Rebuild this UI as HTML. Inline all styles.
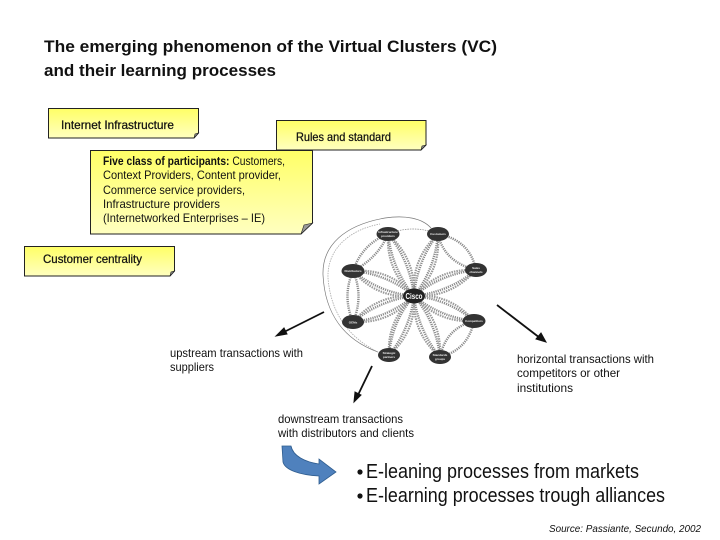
<!DOCTYPE html>
<html>
<head>
<meta charset="utf-8">
<style>
html,body{margin:0;padding:0;background:#fff;width:720px;height:540px;overflow:hidden}
svg{display:block}
text{font-family:"Liberation Sans",sans-serif;fill:#111}
.t{font-size:12px}
.h{stroke:#111;stroke-width:.25}
.n{font-size:3px;fill:#eee;text-anchor:middle;font-weight:bold}
.p{fill:none;stroke:#8a8a8a;stroke-width:2.4;stroke-dasharray:1.2 1}
.q{fill:none;stroke:#9a9a9a;stroke-width:2.2;stroke-dasharray:1.5 1}
</style>
</head>
<body>
<svg width="720" height="540" viewBox="0 0 720 540" xmlns="http://www.w3.org/2000/svg">
<defs>
<linearGradient id="y" x1="0" y1="0" x2="0" y2="1">
<stop offset="0" stop-color="#ffff66"/>
<stop offset="1" stop-color="#ffffc0"/>
</linearGradient>
</defs>
<rect width="720" height="540" fill="#fff"/>

<text x="44" y="52" font-size="17" font-weight="bold" textLength="453" lengthAdjust="spacingAndGlyphs">The emerging phenomenon of the Virtual Clusters (VC)</text>
<text x="44" y="76" font-size="17" font-weight="bold" textLength="232" lengthAdjust="spacingAndGlyphs">and their learning processes</text>

<path d="M48.500 108.500H198.500V133L194 138H48.500Z" fill="url(#y)" stroke="#222"/>
<path d="M194 138L195 134L198.500 133Z" fill="#888" stroke="#222" stroke-width=".6"/>
<text class="t h" x="61" y="129" textLength="113" lengthAdjust="spacingAndGlyphs">Internet Infrastructure</text>

<path d="M276.500 120.500H426V145L421 150H276.500Z" fill="url(#y)" stroke="#222"/>
<path d="M421 150L422 146L426 145Z" fill="#888" stroke="#222" stroke-width=".6"/>
<text class="t h" x="296" y="141" textLength="95" lengthAdjust="spacingAndGlyphs">Rules and standard</text>

<path d="M90.500 150.500H312.500V223L301 234H90.500Z" fill="url(#y)" stroke="#222"/>
<path d="M301 234L304 225L312.500 223Z" fill="#999" stroke="#222" stroke-width=".6"/>
<text class="t" x="103" y="165" textLength="182" lengthAdjust="spacingAndGlyphs"><tspan font-weight="bold">Five class of participants:</tspan> Customers,</text>
<text class="t" x="103" y="179" textLength="178" lengthAdjust="spacingAndGlyphs">Context Providers, Content provider,</text>
<text class="t" x="103" y="194" textLength="142" lengthAdjust="spacingAndGlyphs">Commerce service providers,</text>
<text class="t" x="103" y="208" textLength="117" lengthAdjust="spacingAndGlyphs">Infrastructure providers</text>
<text class="t" x="103" y="222" textLength="162" lengthAdjust="spacingAndGlyphs">(Internetworked Enterprises – IE)</text>

<path d="M24.500 246.500H174.500V271L170 276H24.500Z" fill="url(#y)" stroke="#222"/>
<path d="M170 276L171 272L174.500 271Z" fill="#888" stroke="#222" stroke-width=".6"/>
<text class="t h" x="43" y="263" textLength="99" lengthAdjust="spacingAndGlyphs">Customer centrality</text>

<g>
<path d="M378 352C345 340 325 315 323 275C322 245 345 225 385 218C405 215 422 218 431 228" fill="none" stroke="#777" stroke-width=".7"/>
<path d="M378 352C350 338 331 315 328 278C327 250 348 230 380 224" fill="none" stroke="#aaa" stroke-width=".8" stroke-dasharray="1.500 1"/>

<path class="p" d="M414 296Q410 261 388 234M414 296Q392 269 388 234"/>
<path class="p" d="M414 296Q435 269 438 234M414 296Q417 261 438 234"/>
<path class="p" d="M414 296Q449 292 476 270M414 296Q441 274 476 270"/>
<path class="p" d="M414 296Q387 274 353 271M414 296Q380 293 353 271"/>
<path class="p" d="M414 296Q387 318 353 322M414 296Q380 300 353 322"/>
<path class="p" d="M414 296Q448 299 474 321M414 296Q440 317 474 321"/>
<path class="p" d="M414 296Q410 329 389 355M414 296Q392 321 389 355"/>
<path class="p" d="M414 296Q436 322 440 357M414 296Q418 330 440 357"/>

<path class="q" d="M414 296Q416 259 388 234M414 296Q386 271 388 234"/>
<path class="q" d="M414 296Q441 271 438 234M414 296Q411 259 438 234"/>
<path class="q" d="M414 296Q451 298 476 270M414 296Q439 268 476 270"/>
<path class="q" d="M414 296Q390 268 353 271M414 296Q377 299 353 271"/>
<path class="q" d="M414 296Q390 324 353 322M414 296Q377 294 353 322"/>
<path class="q" d="M414 296Q450 293 474 321M414 296Q438 323 474 321"/>
<path class="q" d="M414 296Q416 332 389 355M414 296Q387 320 389 355"/>
<path class="q" d="M414 296Q442 320 440 357M414 296Q412 333 440 357"/>

<path class="p" d="M388 234Q378 258 353 271M388 234Q362 244 353 271"/>
<path class="p" d="M353 271Q342 296 353 322M353 271Q364 296 353 322"/>
<path class="p" d="M438 234Q444 262 476 270M438 234Q470 240 476 270"/>
<path class="p" d="M474 321Q446 328 440 357M474 321Q468 350 440 357"/>
<path d="M388 234Q413 224 438 234" fill="none" stroke="#888" stroke-width=".7" stroke-dasharray="1.500 1"/>

<ellipse cx="388" cy="234" rx="11.500" ry="7" fill="#333"/>
<ellipse cx="438" cy="234" rx="11" ry="7" fill="#333"/>
<ellipse cx="476" cy="270" rx="11" ry="7" fill="#333"/>
<ellipse cx="353" cy="271" rx="11.500" ry="7" fill="#333"/>
<ellipse cx="353" cy="322" rx="11" ry="7" fill="#333"/>
<ellipse cx="474" cy="321" rx="11.500" ry="7" fill="#333"/>
<ellipse cx="389" cy="355" rx="11" ry="7" fill="#333"/>
<ellipse cx="440" cy="357" rx="11" ry="7" fill="#333"/>
<ellipse cx="414" cy="296" rx="11" ry="7.500" fill="#222"/>

<text class="n" x="388" y="233">Infrastructure</text>
<text class="n" x="388" y="237">providers</text>
<text class="n" x="438" y="235">Customers</text>
<text class="n" x="476" y="269">Sales</text>
<text class="n" x="476" y="273">channels</text>
<text class="n" x="353" y="272">Distributors</text>
<text class="n" x="353" y="323.500">OEMs</text>
<text class="n" x="474" y="322">Competitors</text>
<text class="n" x="389" y="354">Strategic</text>
<text class="n" x="389" y="358">partners</text>
<text class="n" x="440" y="356">Standards</text>
<text class="n" x="440" y="360">groups</text>
<text x="414" y="299" font-size="8" font-weight="bold" text-anchor="middle" style="fill:#fff" textLength="17" lengthAdjust="spacingAndGlyphs">Cisco</text>
</g>

<path d="M324 312L282 333" stroke="#111" stroke-width="1.800" fill="none"/>
<path d="M276 336L284 328L287 334Z" fill="#111" stroke="#111"/>
<path d="M372 366L358 395" stroke="#111" stroke-width="1.800" fill="none"/>
<path d="M354 402L355 392L361 395Z" fill="#111" stroke="#111"/>
<path d="M497 305L540 338" stroke="#111" stroke-width="1.800" fill="none"/>
<path d="M546 342L536 339L541 333Z" fill="#111" stroke="#111"/>

<text class="t" x="170" y="357" textLength="133" lengthAdjust="spacingAndGlyphs">upstream transactions with</text>
<text class="t" x="170" y="371" textLength="44" lengthAdjust="spacingAndGlyphs">suppliers</text>
<text class="t" x="517" y="363" textLength="137" lengthAdjust="spacingAndGlyphs">horizontal transactions with</text>
<text class="t" x="517" y="377" textLength="103" lengthAdjust="spacingAndGlyphs">competitors or other</text>
<text class="t" x="517" y="392" textLength="56" lengthAdjust="spacingAndGlyphs">institutions</text>
<text class="t" x="278" y="423" textLength="125" lengthAdjust="spacingAndGlyphs">downstream transactions</text>
<text class="t" x="278" y="437" textLength="136" lengthAdjust="spacingAndGlyphs">with distributors and clients</text>

<path d="M282 446L291 446C293 456 305 462 319 464L319 459L336 472L319 484L319 476C300 475 285 470 283 462Z" fill="#4f81bd" stroke="#2f5d8f" stroke-width=".8"/>

<circle cx="360" cy="472" r="2.600" fill="#111"/>
<circle cx="360" cy="496" r="2.600" fill="#111"/>
<text x="366" y="478" font-size="20" textLength="273" lengthAdjust="spacingAndGlyphs">E-leaning processes from markets</text>
<text x="366" y="502" font-size="20" textLength="299" lengthAdjust="spacingAndGlyphs">E-learning processes trough alliances</text>

<text x="549" y="532" font-size="10.500" font-style="italic" textLength="152" lengthAdjust="spacingAndGlyphs">Source: Passiante, Secundo, 2002</text>
</svg>
</body>
</html>
